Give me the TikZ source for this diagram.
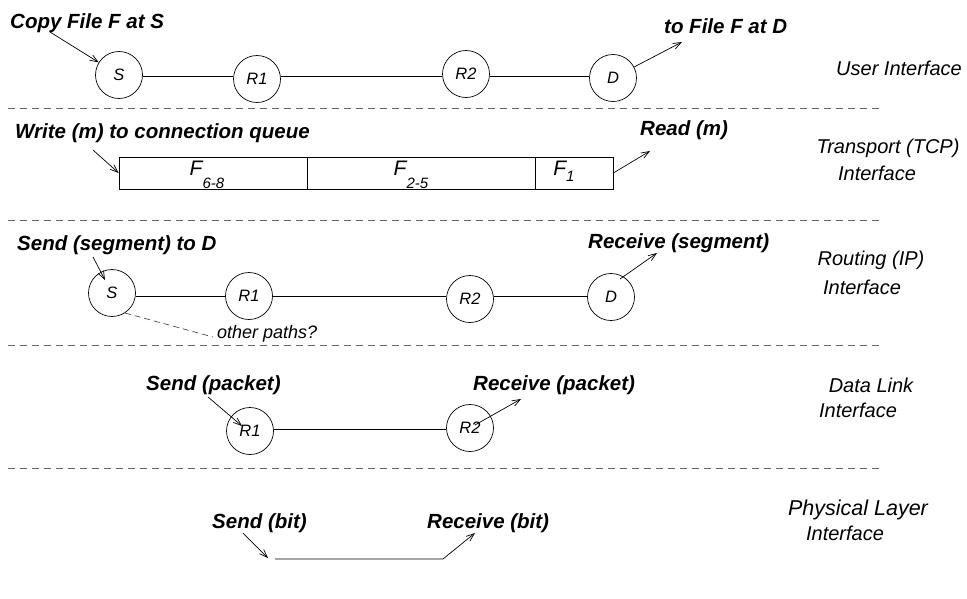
\documentclass[tikz,border=0pt]{standalone}
\usepackage{fontspec}
\setmainfont{Liberation Sans}
\usetikzlibrary{arrows.meta}
\begin{document}
\begin{tikzpicture}[x=1pt,y=-1pt,
 act/.style={font=\fontsize{20.5}{24}\selectfont\bfseries\itshape, inner sep=0pt, anchor=base west},
 lay/.style={font=\fontsize{20}{24}\selectfont\itshape, inner sep=0pt},
 rt/.style={circle, draw, line width=0.7pt, minimum size=47pt, inner sep=0pt, font=\fontsize{16.5}{18}\selectfont\itshape},
 cell/.style={rectangle, draw, line width=0.7pt, minimum height=32pt, inner sep=0pt},
 ftxt/.style={font=\fontsize{21}{24}\selectfont\itshape, inner sep=0pt, anchor=base},
 sep/.style={draw=black!60, dash pattern=on 7pt off 5pt, line width=0.8pt},
 arr/.style={-{Straight Barb[length=8pt,width=6pt]}, line width=0.7pt},
 link/.style={line width=0.7pt},
 other/.style={draw=black!70, dash pattern=on 6pt off 4pt, line width=0.7pt}]
\useasboundingbox (0,0) rectangle (967,598);

% separators
\foreach \yy [count=\i] in {108,220,345,468}{
  \coordinate (sl\i) at (8,\yy);
  \coordinate (sr\i) at (880,\yy);
  \draw[sep] (sl\i) -- (sr\i);
}

% ---------- User interface ----------
\node[act] (t1) at (10,28) {Copy File F at S};
\node[act] (t2) at (664,33) {to File F at D};
\node[rt] (S1) at (119,75) {S};
\node[rt] (R11) at (257,79) {R1};
\node[rt] (R21) at (466,74) {R2};
\node[rt] (D1) at (613,78) {D};
\coordinate (y1) at (0,76);
\draw[link] (S1.east |- y1) -- (R11.west |- y1);
\draw[link] (R11.east |- y1) -- (R21.west |- y1);
\draw[link] (R21.east |- y1) -- (D1.west |- y1);
\coordinate (a1) at (50,32);
\draw[arr] (a1) -- (S1);
\coordinate (a2) at (682,42);
\draw[arr] (D1) -- (a2);
\node[lay] (L1) at (899,68) {User Interface};

% ---------- Transport ----------
\node[act] (t3) at (15,138) {Write (m) to connection queue};
\node[act] (t4) at (640,135) {Read (m)};
\node[cell, minimum width=188pt] (q1) at (213,173) {};
\node[cell, minimum width=228pt] (q2) at (421,173) {};
\node[cell, minimum width=78pt] (q3) at (574,173) {};
\node[ftxt] (f1) at (207,175) {F\raisebox{-13pt}{\fontsize{15}{15}\selectfont 6-8}};
\node[ftxt] (f2) at (411,175) {F\raisebox{-13pt}{\fontsize{15}{15}\selectfont 2-5}};
\node[ftxt] (f3) at (564,175) {F\raisebox{-6pt}{\fontsize{15}{15}\selectfont 1}};
\coordinate (a3) at (93,150);
\draw[arr] (a3) -- (q1.west);
\coordinate (a4) at (650,151);
\draw[arr] (q3.east) -- (a4);
\node[lay] (L2a) at (888,148) {Transport (TCP)};
\node[lay] (L2b) at (877,173) {Interface};

% ---------- Routing ----------
\node[act] (t5) at (17,250) {Send (segment) to D};
\node[act] (t6) at (588,248) {Receive (segment)};
\node[rt] (S3) at (112,293) {S};
\node[rt] (R13) at (249,296) {R1};
\node[rt] (R23) at (470,299) {R2};
\node[rt] (D3) at (611,297) {D};
\coordinate (y3) at (0,296);
\draw[link] (S3.east |- y3) -- (R13.west |- y3);
\draw[link] (R13.east |- y3) -- (R23.west |- y3);
\draw[link] (R23.east |- y3) -- (D3.west |- y3);
\coordinate (a5) at (93,257);
\draw[arr] (a5) -- ([shift={(-7,-13)}]S3.center);
\coordinate (a6) at (657,253);
\draw[arr] ([shift={(9,-18)}]D3.center) -- (a6);
\coordinate (op) at (213,337);
\draw[other] (S3.-57) -- (op);
\node[font=\fontsize{18}{20}\selectfont\itshape, inner sep=0pt, anchor=base west] (t11) at (217,338) {other paths?};
\node[lay] (L3a) at (871,260) {Routing (IP)};
\node[lay] (L3b) at (862,287) {Interface};

% ---------- Data link ----------
\node[act] (t7) at (146,390) {Send (packet)};
\node[act] (t8) at (473,390) {Receive (packet)};
\node[rt] (R14) at (250,431) {R1};
\node[rt] (R24) at (470,428) {R2};
\coordinate (y4) at (0,429);
\draw[link] (R14.east |- y4) -- (R24.west |- y4);
\coordinate (a7) at (208,397);
\draw[arr] (a7) -- ([shift={(-8,-5)}]R14.center);
\coordinate (a8) at (521,399);
\draw[arr] ([shift={(5,-3)}]R24.center) -- (a8);
\node[lay] (L4a) at (871,385) {Data Link};
\node[lay] (L4b) at (858,410) {Interface};

% ---------- Physical ----------
\node[act] (t9) at (212,528) {Send (bit)};
\node[act] (t10) at (427,528) {Receive (bit)};
\coordinate (b0) at (243,533);
\coordinate (b0e) at (268,558);
\draw[arr] (b0) -- (b0e);
\coordinate (b1) at (275,559);
\coordinate (b2) at (443,559);
\coordinate (b3) at (475,533);
\draw[arr] (b1) -- (b2) -- (b3);
\node[font=\fontsize{21.5}{24}\selectfont\itshape, inner sep=0pt] (L5a) at (858,510) {Physical Layer};
\node[lay] (L5b) at (845,533) {Interface};
\end{tikzpicture}
\end{document}
